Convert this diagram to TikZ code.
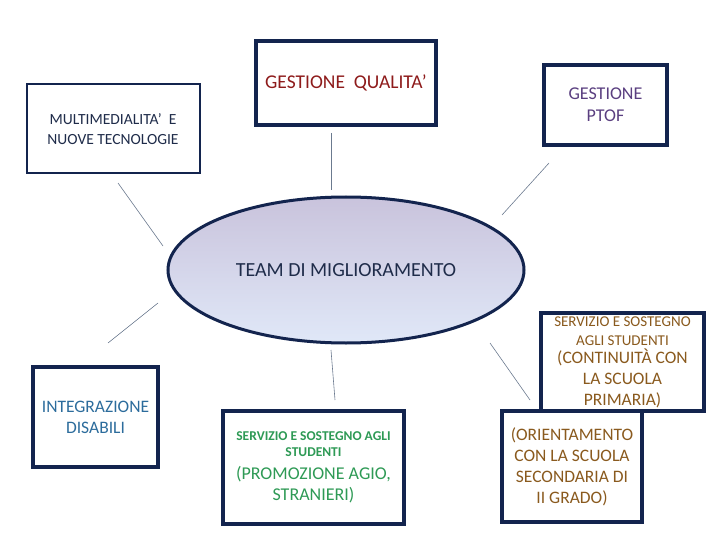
\documentclass[tikz,border=0pt]{standalone}
\usepackage{fontspec}
\setmainfont{Carlito}
\usetikzlibrary{shapes.geometric}

\definecolor{boxnavy}{HTML}{13244E}
\definecolor{linegray}{HTML}{6B7A8F}
\definecolor{qualred}{HTML}{8E1B1B}
\definecolor{multinavy}{HTML}{1F2C4A}
\definecolor{ptofpurple}{HTML}{5A3F80}
\definecolor{integblue}{HTML}{2C6C9C}
\definecolor{agiogreen}{HTML}{2E9A55}
\definecolor{scuolabrown}{HTML}{8A5A1E}

\begin{document}
\begin{tikzpicture}[x=1pt,y=-1pt,
  box/.style={draw=boxnavy,line width=3.2pt,fill=white,align=center,inner sep=0pt},
  link/.style={draw=linegray,line width=0.6pt}]
  \useasboundingbox (0,0) rectangle (720,540);

  % centro
  \node[ellipse,draw=boxnavy,line width=3pt,minimum width=356pt,minimum height=146pt,
        inner sep=0pt,top color={rgb,255:red,201;green,195;blue,220},
        middle color={rgb,255:red,190;green,206;blue,240},
        bottom color={rgb,255:red,224;green,232;blue,248},
        text=multinavy,font=\fontsize{20}{24}\selectfont] (team) at (346,270) {TEAM DI MIGLIORAMENTO};

  % riquadri
  \node[box,minimum width=180pt,minimum height=84pt,text=qualred,
        font=\fontsize{19.5}{22}\selectfont] (qual) at (346,83) {GESTIONE\ \ QUALITA’};
  \node[box,line width=2pt,minimum width=173pt,minimum height=89pt,text=multinavy,
        font=\fontsize{15.5}{20}\selectfont] (multi) at (113,129) {MULTIMEDIALITA’\ \ E\\NUOVE TECNOLOGIE};
  \node[box,minimum width=123pt,minimum height=80pt,text=ptofpurple,
        font=\fontsize{18}{22}\selectfont] (ptof) at (605.5,105) {GESTIONE\\PTOF};
  \node[box,minimum width=125pt,minimum height=100pt,text=integblue,
        font=\fontsize{17.5}{21}\selectfont] (integ) at (95.5,417) {INTEGRAZIONE\\DISABILI};
  \node[box,minimum width=181pt,minimum height=113pt,text=agiogreen,
        font=\fontsize{18}{21}\selectfont] (agio) at (313.5,467.5)
        {{\fontsize{13.5}{16}\selectfont\bfseries SERVIZIO E SOSTEGNO AGLI}\\[-5pt]
         {\fontsize{13.5}{16}\selectfont\bfseries STUDENTI}\\[2pt]
         (PROMOZIONE AGIO,\\
         STRANIERI)};
  \node[box,minimum width=163pt,minimum height=98pt,text=scuolabrown,
        font=\fontsize{17.5}{21}\selectfont] (cont) at (622.5,362)
        {{\fontsize{15}{19}\selectfont SERVIZIO E SOSTEGNO}\\[-2pt]
         {\fontsize{15}{19}\selectfont AGLI STUDENTI}\\[-3pt]
         (CONTINUITÀ CON\\
         LA SCUOLA\\
         PRIMARIA)};
  \node[box,minimum width=140pt,minimum height=111pt,text=scuolabrown,
        font=\fontsize{17.5}{21}\selectfont] (orient) at (572,466.5)
        {(ORIENTAMENTO\\CON LA SCUOLA\\SECONDARIA DI\\II GRADO)};

  % collegamenti
  \coordinate (qual-a) at (331,133);   \coordinate (qual-b) at (331,190);
  \coordinate (multi-a) at (118,183);  \coordinate (multi-b) at (163,246);
  \coordinate (ptof-a) at (549,163);   \coordinate (ptof-b) at (502,215);
  \coordinate (integ-a) at (108,343);  \coordinate (integ-b) at (158,303);
  \coordinate (agio-a) at (331,350);   \coordinate (agio-b) at (335,400);
  \coordinate (cont-a) at (490,343);   \coordinate (cont-b) at (530,400);

  \draw[link] (qual-a) -- (qual-b);
  \draw[link] (multi-a) -- (multi-b);
  \draw[link] (ptof-a) -- (ptof-b);
  \draw[link] (integ-a) -- (integ-b);
  \draw[link] (agio-a) -- (agio-b);
  \draw[link] (cont-a) -- (cont-b);
\end{tikzpicture}
\end{document}
